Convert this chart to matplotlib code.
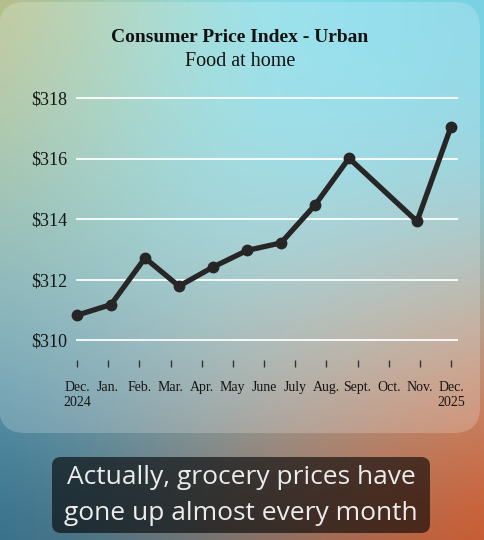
import matplotlib
matplotlib.use('Agg')
import matplotlib.pyplot as plt
from matplotlib.patches import FancyBboxPatch
import numpy as np

# data (October 2025 has no value)
months = ['Dec.\n2024', 'Jan.', 'Feb.', 'Mar.', 'Apr.', 'May', 'June', 'July',
          'Aug.', 'Sept.', 'Oct.', 'Nov.', 'Dec.\n2025']
cpi = [310.82, 311.17, 312.71, 311.78, 312.41, 312.96, 313.21, 314.46,
       316.01, None, 313.92, 317.05]
yticks = [310, 312, 314, 316, 318]

W, H = 484, 540
serif = 'Liberation Serif'

# coarse colour grid for the background wash (rows top->bottom, cols left->right)
wash = np.array([
    [[200, 185, 110], [128, 230, 252], [118, 205, 222]],
    [[146, 182, 150], [135, 224, 242], [128, 208, 222]],
    [[84, 150, 178], [165, 186, 182], [212, 140, 105]],
    [[34, 106, 140], [125, 108, 100], [214, 78, 28]],
]) / 255.0

fig = plt.figure(figsize=(W / 100, H / 100), dpi=100)

bg = fig.add_axes([0, 0, 1, 1])
# grid values sit on the figure edges, bicubic smoothing in between
bg.imshow(wash, extent=[-W / 4, W + W / 4, H + H / 6, -H / 6],
          interpolation='bicubic', aspect='auto', zorder=0)
bg.set_xlim(0, W)
bg.set_ylim(H, 0)
bg.axis('off')

card = FancyBboxPatch((-1, 2), 481, 431, boxstyle='round,pad=0,rounding_size=26',
                      fc='white', ec='none', alpha=0.2, zorder=1)
bg.add_patch(card)

cap = FancyBboxPatch((52, 457), 378, 76, boxstyle='round,pad=0,rounding_size=9',
                     fc='black', ec='none', alpha=0.6, zorder=1)
bg.add_patch(cap)
bg.text(241, 478, 'Actually, grocery prices have', ha='center', va='center',
        fontsize=19, family='Open Sans', color='#ececec', zorder=2)
bg.text(241, 513, 'gone up almost every month', ha='center', va='center',
        fontsize=19, family='Open Sans', color='#ececec', zorder=2)

bg.text(240, 38, 'Consumer Price Index - Urban', ha='center', va='center',
        fontsize=14, fontweight='bold', family=serif, color='#111111', zorder=2)
bg.text(240, 62, 'Food at home', ha='center', va='center',
        fontsize=14.5, family=serif, color='#111111', zorder=2)

# chart area in pixels: x 76..458, y 92..360
ax = fig.add_axes([76 / W, 1 - 360 / H, (458 - 76) / W, (360 - 92) / H])
ax.set_facecolor('none')

xs = [i for i, v in enumerate(cpi) if v is not None]
ys = [v for v in cpi if v is not None]
ax.plot(xs, ys, color='#262626', lw=3.8, marker='o', ms=7.5, clip_on=False,
        solid_joinstyle='round', solid_capstyle='round', zorder=3)

ax.set_xlim(-1 / 34, 11 + 7 / 34)
ax.set_ylim(310 - 20 / 30.25, 318 + 6 / 30.25)

ax.set_yticks(yticks, ['$%d' % v for v in yticks])
ax.set_xticks(np.linspace(0, 11, len(months)), months)
for v in yticks:
    ax.axhline(v, color='white', lw=1.4, alpha=0.9, zorder=1)

for s in ax.spines.values():
    s.set_visible(False)
ax.tick_params(axis='y', length=0, pad=6, labelsize=13, labelcolor='#151515')
ax.tick_params(axis='x', length=5, width=1.0, color='#333333', pad=10,
               labelsize=10, labelcolor='#151515')
for lab in ax.get_xticklabels() + ax.get_yticklabels():
    lab.set_family(serif)
for lab in ax.get_xticklabels():
    lab.set_linespacing(1.2)

fig.savefig('out.png', dpi=100)
